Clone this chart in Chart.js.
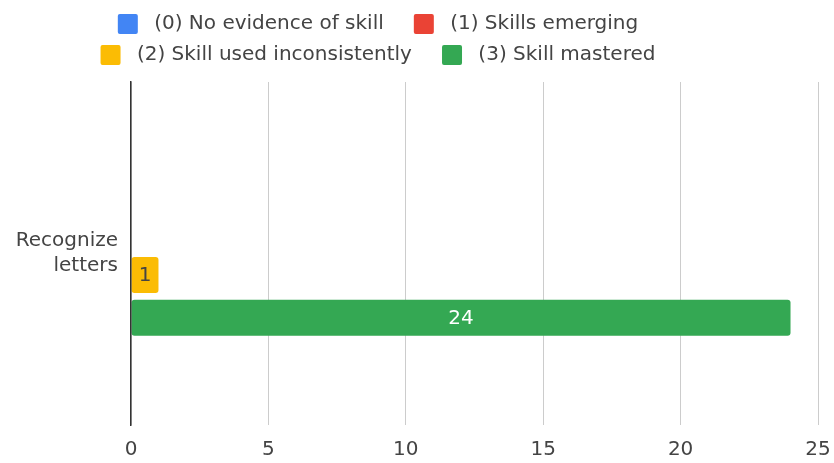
<!DOCTYPE html>
<html>
<head>
<meta charset="utf-8">
<script src="https://cdn.jsdelivr.net/npm/chart.js@4.4.0/dist/chart.umd.min.js"></script>
<style>
  html, body { margin: 0; padding: 0; background: #fff; }
  #chart { display: block; }
</style>
</head>
<body>
<canvas id="chart" width="834" height="463"></canvas>
<script>
// One skill, one dataset per level of mastery
var CATEGORIES = [["Recognize", "letters"]];
var LEVELS = ["(0) No evidence of skill", "(1) Skills emerging", "(2) Skill used inconsistently", "(3) Skill mastered"];
var COUNTS = [[0], [0], [1], [24]];
var X_TICKS = [0, 5, 10, 15, 20, 25];
var COLORS = ["#4285f4", "#ea4335", "#fbbc04", "#34a853"];
var LABEL_COLORS = ["#fff", "#fff", "#444", "#fff"];

Chart.defaults.font.family = '"DejaVu Sans", sans-serif';
Chart.defaults.font.size = 20;
Chart.defaults.color = "#444";

// legend sits a bit left of centre and leaves a wider gap above the plot
var legendNudge = {
    id: "legendNudge",
    beforeLayout: function (chart) {
        var lg = chart.legend;
        if (lg && !lg._nudged) {
            var fit = lg.fit;
            lg.fit = function () { fit.call(this); this.height += 7; };
            lg._nudged = true;
        }
    },
    afterLayout: function (chart) {
        chart.legend.left -= 31;
        chart.legend.right -= 31;
    }
};

// value written in the middle of each bar
var barValues = {
    id: "barValues",
    afterDatasetsDraw: function (chart) {
        var ctx = chart.ctx;
        ctx.save();
        ctx.font = '20px "DejaVu Sans"';
        ctx.textAlign = "center";
        ctx.textBaseline = "middle";
        chart.data.datasets.forEach(function (ds, i) {
            chart.getDatasetMeta(i).data.forEach(function (bar, j) {
                var v = ds.data[j];
                if (!v) return;
                ctx.fillStyle = LABEL_COLORS[i];
                ctx.fillText(String(v), (bar.x + bar.base) / 2, bar.y + 1);
            });
        });
        ctx.restore();
    }
};

var datasets = LEVELS.map(function (name, i) {
    return {
        label: name,
        data: COUNTS[i],
        backgroundColor: COLORS[i],
        borderWidth: 0,
        borderRadius: 3,
        borderSkipped: false,
        categoryPercentage: 0.5,
        barPercentage: 0.84
    };
});

var ctx = document.getElementById("chart").getContext("2d");
var chart = new Chart(ctx, {
    type: "bar",
    data: {
        labels: CATEGORIES,
        datasets: datasets
    },
    options: {
        indexAxis: "y",
        responsive: false,
        maintainAspectRatio: false,
        animation: false,
        layout: { padding: { top: 3, right: 16, bottom: 0, left: 0 } },
        plugins: {
            tooltip: { enabled: false },
            legend: {
                position: "top",
                labels: {
                    boxWidth: 20,
                    boxHeight: 20,
                    padding: 11,
                    color: "#444",
                    useBorderRadius: true,
                    borderRadius: 2,
                    generateLabels: function (chart) {
                        var items = Chart.defaults.plugins.legend.labels.generateLabels(chart);
                        items.forEach(function (item, i) {
                            item.text = " " + item.text + (i % 2 === 0 ? "   " : "");
                        });
                        return items;
                    }
                }
            }
        },
        scales: {
            x: {
                min: X_TICKS[0],
                max: X_TICKS[X_TICKS.length - 1],
                ticks: { stepSize: X_TICKS[1] - X_TICKS[0], padding: 13, color: "#444" },
                grid: { color: "#ccc", drawTicks: false },
                border: { display: false },
                afterFit: function (s) {
                    s.height = 35;
                    s.paddingLeft = 0;
                    s.paddingRight = 0;
                }
            },
            y: {
                ticks: { padding: 13, color: "#444", font: { size: 20, lineHeight: 1.25 } },
                grid: { display: false, drawTicks: false },
                border: { display: true, color: "#333", width: 1.5, z: 1 },
                afterFit: function (s) { s.width = 131; }
            }
        }
    },
    plugins: [legendNudge, barValues]
});
</script>
</body>
</html>
